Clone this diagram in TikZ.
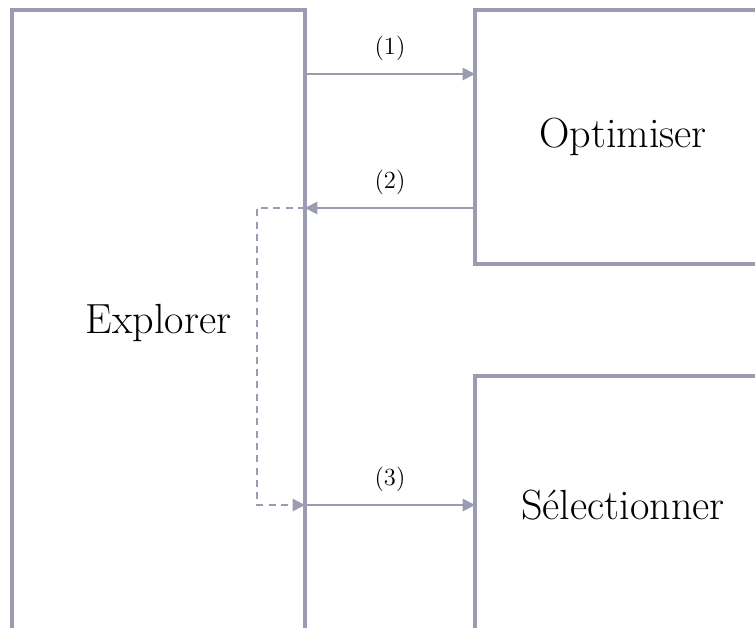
\documentclass[tikz,border=0pt]{standalone}
\usepackage{xcolor}
\usepackage{tikz}
\usetikzlibrary{arrows.meta}
\definecolor{lineGrey}{RGB}{155,155,178}

\begin{document}
\begin{tikzpicture}[x=0.02cm, y=-0.02cm,
    box/.style={draw=lineGrey, line width=2pt, rectangle, outer sep=0pt, font=\fontsize{24}{28}\selectfont},
    flow/.style={draw=lineGrey, line width=1pt, -{Triangle[length=7pt,width=7pt,fill=lineGrey]}},
    dflow/.style={flow, dash pattern=on 4pt off 3pt},
    lbl/.style={font=\fontsize{14}{16}\selectfont, text=black}]
      \useasboundingbox (0,0) rectangle (755,627);
      \clip (0,0) rectangle (755,627);

      \node[box, minimum width=5.86cm, minimum height=12.52cm] (exp) at (158.5,323){Explorer};
      \node[box, minimum width=5.92cm, minimum height=5.08cm] (opt) at (623,137){Optimiser};
      \node[box, minimum width=5.92cm, minimum height=5.16cm] (sel) at (623,505){Sélectionner};

      \coordinate (c1) at (0,74);
      \coordinate (c2) at (0,208);
      \coordinate (c3) at (0,505);
      \coordinate (bend) at (257,0);

      \draw[flow] (exp.east |- c1) -- node[lbl, above=4pt]{(1)} (opt.west |- c1);
      \draw[flow] (opt.west |- c2) -- node[lbl, above=4pt]{(2)} (exp.east |- c2);
      \draw[flow] (exp.east |- c3) -- node[lbl, above=4pt]{(3)} (sel.west |- c3);

      \draw[dflow] (exp.east |- c2) -- (bend |- c2) -- (bend |- c3) -- (exp.east |- c3);
    \end{tikzpicture}
\end{document}
